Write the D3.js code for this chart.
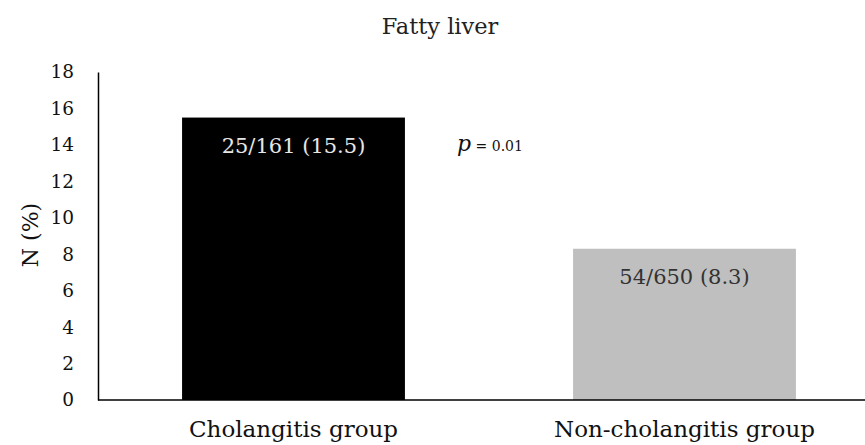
<!DOCTYPE html>
<html>
<head>
<meta charset="utf-8">
<script src="https://cdn.jsdelivr.net/npm/d3@7"></script>
<style>
  body { margin: 0; background: #fff; }
  svg { display: block; }
  text { font-family: "DejaVu Serif", "Liberation Serif", serif; }
</style>
</head>
<body>
<svg id="chart"></svg>
<script>
// chart data
const groups = ["Cholangitis group", "Non-cholangitis group"];
const percents = [15.5, 8.3];
const counts = ["25/161", "54/650"];
const barColors = ["#000000", "#bfbfbf"];
const labelColors = ["#e6e6e6", "#333333"];
const yTicks = [0, 2, 4, 6, 8, 10, 12, 14, 16, 18];
const title = "Fatty liver";
const pValue = "0.01";

const width = 865, height = 445;
const margin = { top: 72, right: -15, bottom: 45, left: 98 };

const svg = d3.select("#chart")
  .attr("width", width)
  .attr("height", height);

const x = d3.scaleBand()
  .domain(groups)
  .range([margin.left, width - margin.right])
  .paddingInner(0.43)
  .paddingOuter(0.215);

const y = d3.scaleLinear()
  .domain([0, 18])
  .range([height - margin.bottom, margin.top]);

// bars
svg.append("g")
  .selectAll("rect")
  .data(groups)
  .join("rect")
  .attr("x", d => x(d))
  .attr("y", (d, i) => y(percents[i]))
  .attr("width", x.bandwidth())
  .attr("height", (d, i) => y(0) - y(percents[i]))
  .attr("fill", (d, i) => barColors[i]);

// labels inside bars
svg.append("g")
  .selectAll("text")
  .data(groups)
  .join("text")
  .attr("x", d => x(d) + x.bandwidth() / 2)
  .attr("y", (d, i) => y(percents[i]) + 35)
  .attr("text-anchor", "middle")
  .style("font-size", "21px")
  .style("fill", (d, i) => labelColors[i])
  .text((d, i) => counts[i] + " (" + percents[i] + ")");

// y axis
const yAxis = svg.append("g")
  .attr("transform", "translate(" + margin.left + ",0)")
  .call(d3.axisLeft(y).tickValues(yTicks).tickSize(0).tickPadding(24));
yAxis.select(".domain").attr("stroke", "#000").attr("stroke-width", 1.5);
yAxis.selectAll("text")
  .style("font-family", "DejaVu Serif, serif")
  .style("font-size", "18.5px")
  .style("fill", "#111");

// x axis
const xAxis = svg.append("g")
  .attr("transform", "translate(0," + y(0) + ")")
  .call(d3.axisBottom(x).tickSize(0).tickPadding(17));
xAxis.select(".domain")
  .attr("d", "M" + margin.left + ",0H" + width)
  .attr("stroke", "#000").attr("stroke-width", 1.5);
xAxis.selectAll("text")
  .attr("dy", "0.85em")
  .style("font-family", "DejaVu Serif, serif")
  .style("font-size", "23px")
  .style("fill", "#111");

// y axis title
svg.append("text")
  .attr("transform", "translate(30," + (y(9) - 1) + ") rotate(-90)")
  .attr("text-anchor", "middle")
  .attr("dy", "0.35em")
  .style("font-size", "22px")
  .style("fill", "#111")
  .text("N (%)");

// chart title
svg.append("text")
  .attr("x", 440)
  .attr("y", 34)
  .attr("text-anchor", "middle")
  .style("font-size", "22.5px")
  .style("fill", "#222")
  .text(title);

// p value annotation
const p = svg.append("text")
  .attr("x", 457)
  .attr("y", 151)
  .style("fill", "#111");
p.append("tspan")
  .style("font-style", "italic")
  .style("font-size", "22px")
  .text("p");
p.append("tspan")
  .style("font-size", "14px")
  .text(" = " + pValue);
</script>
</body>
</html>
